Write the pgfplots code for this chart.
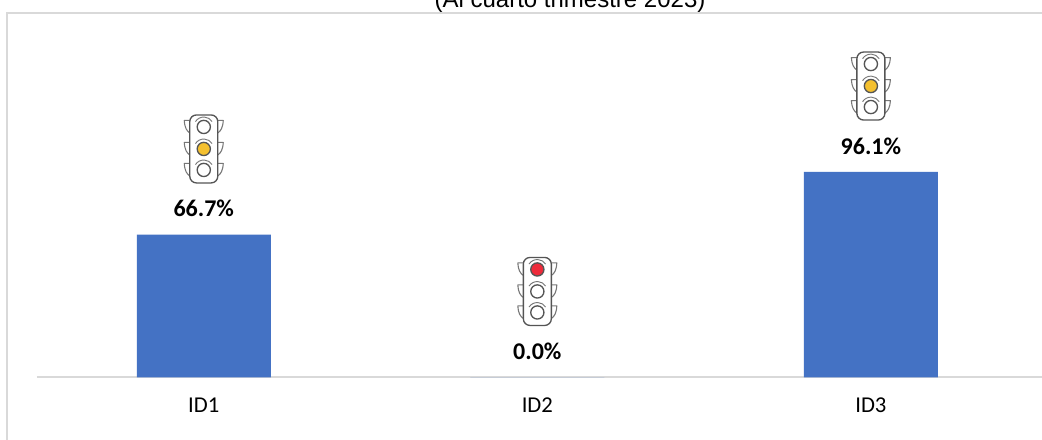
\documentclass[border=0pt]{standalone}
\usepackage{pgfplots}
\pgfplotsset{compat=1.18}
\usepackage{fontspec}
\setmainfont{Carlito}
\newfontfamily\arialf{Liberation Sans}
\usetikzlibrary{plotmarks}
\definecolor{barblue}{HTML}{4472C4}
\definecolor{gridgray}{HTML}{D9D9D9}
\definecolor{tlgray}{HTML}{555555}
\definecolor{tlear}{HTML}{777777}
\definecolor{tlyellow}{HTML}{F4C02F}
\definecolor{tlred}{HTML}{EE2B3B}
\newcommand{\tlight}[3]{%
 \begin{scope}[x=0.75pt,y=-0.75pt,line width=1pt,draw=tlgray]
  \foreach \yy/\cc in {-22/#1,0/#2,21/#3}{
   \draw[tlear,fill=white,line width=0.8pt,line join=round] (-14,\yy-6.5) -- (-19.5,\yy-6.5) .. controls (-19,\yy+1) and (-17,\yy+4) .. (-14,\yy+6);
   \draw[tlear,fill=white,line width=0.8pt,line join=round] (14,\yy-6.5) -- (19.5,\yy-6.5) .. controls (19,\yy+1) and (17,\yy+4) .. (14,\yy+6);
  }
  \draw[fill=white,rounded corners=5pt] (-14,-34) rectangle (14,34);
  \foreach \yy/\cc in {-22/#1,0/#2,21/#3}{
   \draw[fill=\cc,line width=1pt] (0,\yy) circle (6.6);
   \draw[tlear,line width=0.7pt] (-8.3,\yy-5.4) arc[start angle=213,end angle=327,radius=9.9];
  }
 \end{scope}}
\pgfdeclareplotmark{tlY}{\tlight{white}{tlyellow}{white}}
\pgfdeclareplotmark{tlR}{\tlight{tlred}{white}{white}}
\begin{document}
\begin{tikzpicture}[x=0.75pt,y=-0.75pt]
\path[use as bounding box] (0,0) rectangle (1042,439);
\begin{scope}
\clip (0,0) rectangle (1042,439);
\node[anchor=base,font=\arialf\fontsize{18}{21}\selectfont,inner sep=0pt] at (570,7.5) {(Al cuarto trimestre 2023)};
\fill[white] (0,11.5) rectangle (1042,439);
\draw[gridgray,line width=1.5pt] (7,440) -- (7,12.5) -- (1043,12.5);
\begin{axis}[
  at={(27.75pt,-283.1pt)},anchor=south west,
  scale only axis,
  width=753.75pt,height=274.1pt,
  xmin=-0.5,xmax=2.513,ymin=0,ymax=170.8,
  clip=false,
  axis x line*=bottom,
  axis y line=none,
  x axis line style={gridgray,line width=1.5pt,-},
  xtick={0,1,2},
  xticklabels={ID1,ID2,ID3},
  major tick length=0pt,
  x tick label style={font=\fontsize{17}{20}\selectfont,text=black,yshift=-11.7pt},
  ]
\addplot[ybar,bar width=100.5pt,fill=barblue,draw=none,
  nodes near coords={\pgfmathprintnumber[fixed,fixed zerofill,precision=1,assume math mode=true]{\pgfplotspointmeta}\%},
  nodes near coords style={font=\bfseries\fontsize{18}{21}\selectfont,text=black,anchor=center,yshift=19.5pt},
  ] coordinates {(0,66.7) (1,0.0) (2,96.1)};
\addplot[only marks,mark=tlY,mark options={solid}] coordinates {(0,106.8) (2,136.2)};
\addplot[only marks,mark=tlR,mark options={solid}] coordinates {(1,40.2)};
\end{axis}
\end{scope}
\end{tikzpicture}
\end{document}
